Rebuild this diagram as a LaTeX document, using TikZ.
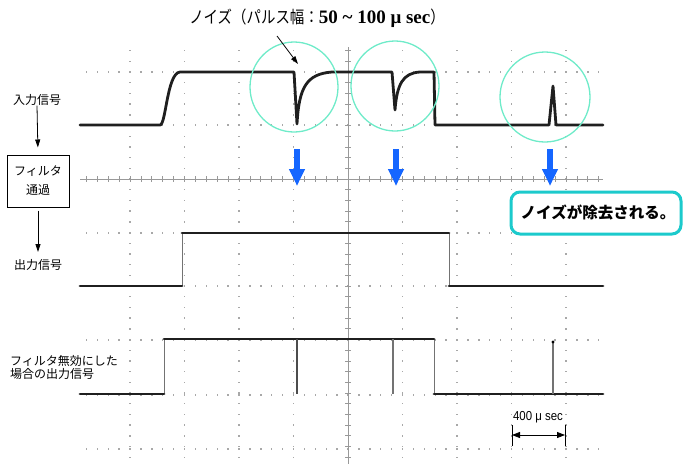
\documentclass[tikz,border=0pt]{standalone}
\usepackage{fontspec}
\usepackage{graphicx}
\setmainfont{Liberation Sans}
\newfontfamily\jp{Noto Sans CJK JP}
\newfontfamily\jpheavy{Noto Sans CJK JP Black}
\newfontfamily\serifb{Liberation Serif}
\usetikzlibrary{arrows.meta}
\definecolor{ringc}{HTML}{6FEBC9}
\definecolor{arrowblue}{HTML}{1566FF}
\definecolor{callc}{HTML}{1CCACC}
\definecolor{gridc}{HTML}{A8A8A8}
\definecolor{axisc}{HTML}{999999}
\tikzset{
  sig/.style={line width=2.8pt, black!88, line join=round, line cap=round},
  edge/.style={line width=1pt, black!55},
  ring/.style={draw=ringc, line width=1.3pt},
  bluearrow/.style={arrowblue, line width=6pt, -{Triangle[width=15pt,length=17pt]}},
  lab/.style={font=\jp\fontsize{12}{13.5}\selectfont, inner sep=0pt},
  blackarrow/.style={line width=0.8pt, -{Triangle[width=5pt,length=8pt]}},
  gdot/.style={gridc},
}
\begin{document}
\begin{tikzpicture}[x=1pt,y=-1pt]
\useasboundingbox (0,0) rectangle (683,464);
% grid dots
\foreach \gy in {72,125,233,286,340,395,449}{
  \foreach \k in {-24,...,23}{
    \fill[gdot] ({348+\k*10.9-0.7},{\gy-0.7}) rectangle ++(1.4,1.4);
  }
}
\foreach \m in {-4,-3,-2,-1,1,2,3,4}{
  \foreach \k in {-12,...,26}{
    \fill[gdot] ({348+\m*54.5-0.7},{179+\k*10.7-0.7}) rectangle ++(1.4,1.4);
  }
}
% center axes
\draw[axisc, line width=0.8pt] (80,179) -- (603,179);
\foreach \k in {-24,...,23}{
  \draw[axisc, line width=0.8pt] ({348+\k*10.9},176) -- ++(0,6);
}
\draw[axisc, line width=1pt] (348,47) -- (348,464);
\foreach \k in {-12,...,26}{
  \draw[axisc, line width=0.8pt] (345,{179+\k*10.7}) -- ++(6,0);
}
% input signal
\draw[sig] (80,125) -- (160,125) .. controls (166,125) and (167,73) .. (180,72)
  -- (294,72) -- (297,124) .. controls (299,88) and (306,74) .. (332,72)
  -- (392,72) -- (395,110) .. controls (397,84) and (403,73) .. (420,72)
  -- (434,72) -- (435,125) -- (549,125) -- (553,86) -- (556,125) -- (603,125);
% output signal
\draw[edge] (182,286) -- (182,233);
\draw[edge] (449,233) -- (449,286);
\draw[sig] (80,286) -- (182,286);
\draw[sig] (182,233) -- (449,233);
\draw[sig] (449,286) -- (603,286);
% filter disabled output
\draw[edge] (164,394) -- (164,339);
\draw[edge] (434,339) -- (434,394);
\draw[sig] (80,394) -- (164,394);
\draw[sig] (164,339) -- (434,339);
\draw[sig] (434,394) -- (603,394);
\draw[black!70, line width=1.2pt] (297,339) -- (297,394);
\draw[black!55, line width=1.8pt] (393,339) -- (393,394);
\draw[black!55, line width=1.8pt] (553,394) -- (553,341);
\fill[black] (553,342) circle (1.6);
% rings
\draw[ring] (294,87) ellipse [x radius=44, y radius=45];
\draw[ring] (395,86) ellipse [x radius=44, y radius=45];
\draw[ring] (545,97) ellipse [x radius=45, y radius=45];
% blue arrows
\draw[bluearrow] (297,149) -- (297,186);
\draw[bluearrow] (396,149) -- (396,186);
\draw[bluearrow] (550,149) -- (550,186);
% title
\node[inner sep=0pt] (title) at (317,18)
  {\scalebox{0.85}[1]{\jp\fontsize{17}{19}\selectfont ノイズ（パルス幅：}%
   {\serifb\bfseries\fontsize{19}{20}\selectfont 50 \textasciitilde{} 100 μ sec}%
   \scalebox{0.85}[1]{\jp\fontsize{17}{19}\selectfont ）}};
\coordinate (t1) at (277,36);
\coordinate (t2) at (298,64);
\draw[blackarrow] (t1) -- (t2);
% left labels
\node[lab] (in) at (37,100) {入力信号};
\node[draw, line width=1pt, minimum width=62, minimum height=52, align=center,
      font=\jp\fontsize{12}{19}\selectfont, inner sep=0pt] (filt) at (38,181) {フィルタ\\通過};
\node[lab] (out) at (38,265) {出力信号};
\draw[blackarrow, shorten >=7pt] (in.south) -- (filt.north);
\draw[blackarrow, shorten <=3pt] (filt.south) -- (38,252);
\node[lab, anchor=north west, align=left] (nofilt) at (10,355) {フィルタ無効にした\\場合の出力信号};
% callout
\node[draw=callc, line width=3pt, rounded corners=9pt, fill=white,
      minimum width=170, minimum height=42, inner sep=0pt,
      font=\jpheavy\fontsize{15.5}{17}\selectfont] (note) at (596,213) {\hspace*{4pt}ノイズが除去される。};
% time scale
\node[inner sep=0pt, font=\fontsize{13}{14}\selectfont] (scale) at (538,417) {\scalebox{0.88}[1]{400 μ sec}};
\coordinate (s1) at (512,435);
\coordinate (s2) at (565,435);
\draw[line width=0.8pt, {Triangle[width=6pt,length=8pt]}-{Triangle[width=6pt,length=8pt]}] (s1) -- (s2);
\draw[line width=0.8pt] (512,425) -- (512,446);
\draw[line width=0.8pt] (565,425) -- (565,446);
\end{tikzpicture}
\end{document}
